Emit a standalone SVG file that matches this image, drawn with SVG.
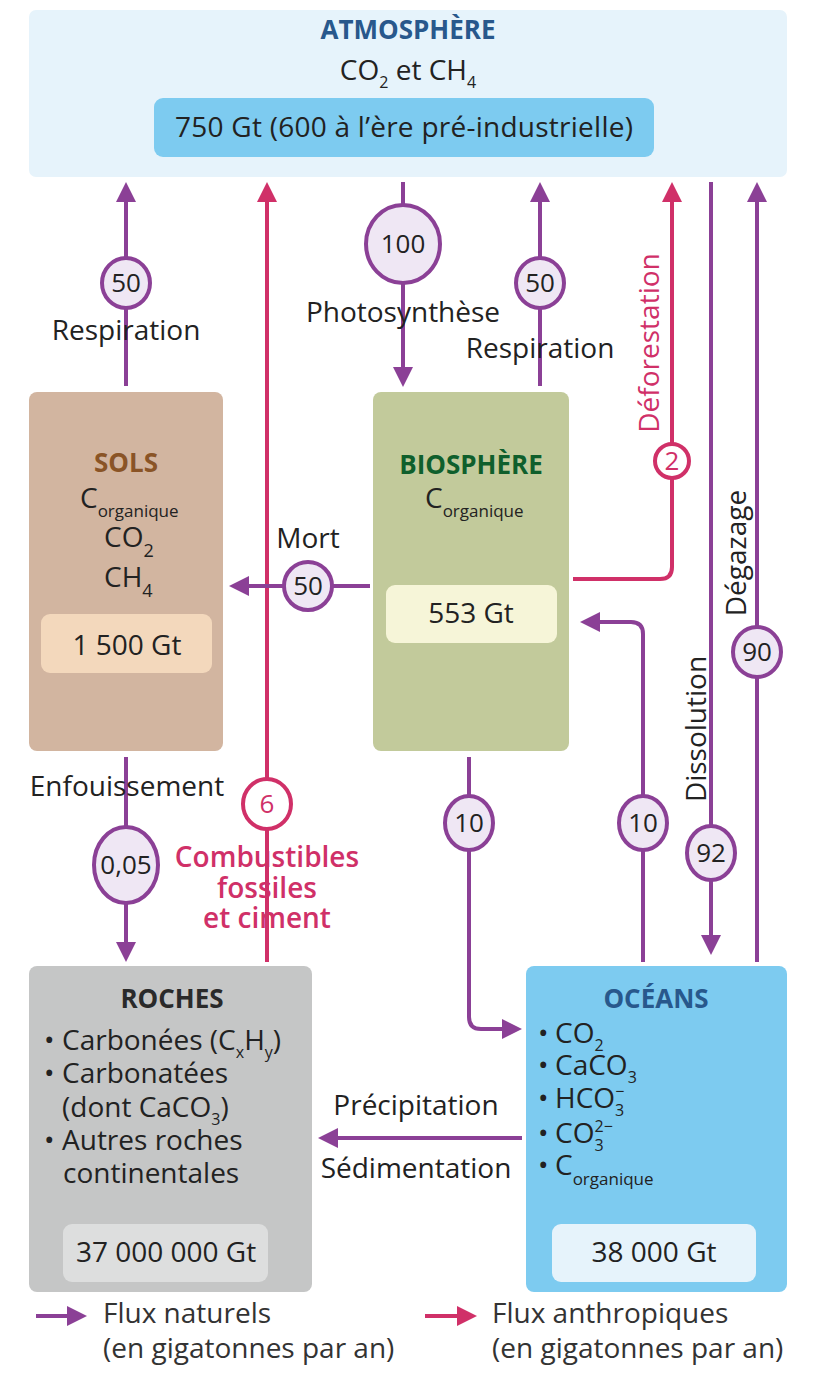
<svg xmlns="http://www.w3.org/2000/svg" width="815" height="1394" viewBox="0 0 815 1394">
<defs>
<style>
text{font-family:"Open Sans","Noto Sans",sans-serif;fill:#222;}
.lbl{font-size:28px;}
.mid{text-anchor:middle;}
.num{font-size:26px;text-anchor:middle;}
.ttl{font-size:26px;font-weight:bold;text-anchor:middle;}
.sub{font-size:16px;}
.np{fill:none;stroke:#8b4096;stroke-width:4;}
.ap{fill:none;stroke:#d03068;stroke-width:4;}
.cn{fill:#efe7f4;stroke:#8b4096;stroke-width:4;}
.ca{fill:#fff;stroke:#d03068;stroke-width:4;}
.pk{fill:#d03068;}
</style>
<marker id="mp" viewBox="0 0 20 20" refX="3" refY="10" markerWidth="20" markerHeight="20" markerUnits="userSpaceOnUse" orient="auto"><path d="M0,0 L20,10 L0,20 z" fill="#8b4096"/></marker>
<marker id="ma" viewBox="0 0 20 20" refX="3" refY="10" markerWidth="20" markerHeight="20" markerUnits="userSpaceOnUse" orient="auto"><path d="M0,0 L20,10 L0,20 z" fill="#d03068"/></marker>
</defs>

<g id="atmosphere">
<rect x="29" y="10" width="758" height="167" rx="7" fill="#e6f3fb"/>
<text class="ttl" x="408" y="39" style="fill:#28588c">ATMOSPHÈRE</text>
<text class="lbl mid" x="408" y="80">CO<tspan class="sub" dy="8">2</tspan><tspan dy="-8"> et CH</tspan><tspan class="sub" dy="8">4</tspan></text>
<rect x="154" y="98" width="500" height="59" rx="9" fill="#7dcbf0"/>
<text class="lbl mid" x="404" y="137" textLength="458">750 Gt (600 à l’ère pré-industrielle)</text>
</g>

<g id="sols">
<rect x="29" y="392" width="194" height="359" rx="8" fill="#d2b5a0"/>
<text class="ttl" x="126" y="472" style="fill:#8a5426">SOLS</text>
<text class="lbl" x="80" y="508">C<tspan class="sub" dy="9" style="font-size:17px">organique</tspan></text>
<text class="lbl" x="104" y="547">CO<tspan class="sub" dy="10" style="font-size:18px">2</tspan></text>
<text class="lbl" x="104" y="587">CH<tspan class="sub" dy="10" style="font-size:18px">4</tspan></text>
<rect x="41" y="614" width="171" height="59" rx="9" fill="#f3d8bc"/>
<text class="lbl mid" x="127" y="655">1 500 Gt</text>
</g>

<g id="biosphere">
<rect x="373" y="392" width="196" height="359" rx="8" fill="#c2ca9b"/>
<text class="ttl" x="471" y="474" style="fill:#0f5f2c">BIOSPHÈRE</text>
<text class="lbl" x="425" y="508">C<tspan class="sub" dy="9" style="font-size:17px">organique</tspan></text>
<rect x="386" y="585" width="171" height="58" rx="9" fill="#f6f5d8"/>
<text class="lbl mid" x="471" y="623">553 Gt</text>
</g>

<g id="roches">
<rect x="29" y="966" width="283" height="326" rx="8" fill="#c5c6c6"/>
<text class="ttl" x="172" y="1008" style="fill:#2a2a2a">ROCHES</text>
<text class="lbl" x="44" y="1050">•<tspan x="62">Carbonées (C</tspan><tspan class="sub" dy="8">x</tspan><tspan dy="-8">H</tspan><tspan class="sub" dy="8">y</tspan><tspan dy="-8">)</tspan></text>
<text class="lbl" x="44" y="1083">•<tspan x="62">Carbonatées</tspan></text>
<text class="lbl" x="62" y="1117">(dont CaCO<tspan class="sub" dy="8">3</tspan><tspan dy="-8">)</tspan></text>
<text class="lbl" x="44" y="1150">•<tspan x="62">Autres roches</tspan></text>
<text class="lbl" x="63" y="1183">continentales</text>
<rect x="63" y="1224" width="205" height="58" rx="9" fill="#dddede"/>
<text class="lbl mid" x="166" y="1262">37 000 000 Gt</text>
</g>

<g id="oceans">
<rect x="526" y="966" width="261" height="326" rx="8" fill="#7dcbf0"/>
<text class="ttl" x="656" y="1008" style="fill:#28588c">OCÉANS</text>
<text class="lbl" x="538" y="1043">•<tspan x="555">CO</tspan><tspan class="sub" dy="8">2</tspan></text>
<text class="lbl" x="538" y="1075">•<tspan x="555">CaCO</tspan><tspan class="sub" dy="8">3</tspan></text>
<text class="lbl" x="538" y="1108">•<tspan x="555">HCO</tspan><tspan class="sub" dy="8">3</tspan><tspan class="sub" dx="-9" dy="-19">−</tspan></text>
<text class="lbl" x="538" y="1143">•<tspan x="555">CO</tspan><tspan class="sub" dy="8">3</tspan><tspan class="sub" dx="-9" dy="-19">2−</tspan></text>
<text class="lbl" x="538" y="1175">•<tspan x="555">C</tspan><tspan class="sub" dy="10" style="font-size:17px">organique</tspan></text>
<rect x="552" y="1224" width="204" height="58" rx="9" fill="#e6f3fb"/>
<text class="lbl mid" x="654" y="1262">38 000 Gt</text>
</g>

<g id="connectors">
<path class="np" d="M126 386 V199" marker-end="url(#mp)"/>
<path class="ap" d="M267 962 V199" marker-end="url(#ma)"/>
<path class="np" d="M403 182 V370" marker-end="url(#mp)"/>
<path class="np" d="M540 386 V199" marker-end="url(#mp)"/>
<path class="ap" d="M573 579 H660 Q672 579 672 567 V199" marker-end="url(#ma)"/>
<path class="np" d="M711 182 V938" marker-end="url(#mp)"/>
<path class="np" d="M757 962 V199" marker-end="url(#mp)"/>
<path class="np" d="M370 586 H246" marker-end="url(#mp)"/>
<path class="np" d="M643 962 V634 Q643 622 631 622 H597" marker-end="url(#mp)"/>
<path class="np" d="M469 757 V1017 Q469 1029 481 1029 H505" marker-end="url(#mp)"/>
<path class="np" d="M126 757 V945" marker-end="url(#mp)"/>
<path class="np" d="M522 1138 H335" marker-end="url(#mp)"/>

<ellipse class="cn" cx="126" cy="283" rx="24" ry="25"/>
<text class="num" x="126" y="292">50</text>
<ellipse class="cn" cx="403" cy="244" rx="37" ry="39"/>
<text class="num" x="403" y="253">100</text>
<ellipse class="cn" cx="540" cy="283" rx="24" ry="25"/>
<text class="num" x="540" y="292">50</text>
<circle class="ca" cx="672" cy="461" r="17"/>
<text class="num pk" x="672" y="470">2</text>
<circle class="cn" cx="308" cy="586" r="24"/>
<text class="num" x="308" y="595">50</text>
<ellipse class="cn" cx="757" cy="652" rx="24" ry="25"/>
<text class="num" x="757" y="661">90</text>
<ellipse class="cn" cx="711" cy="853" rx="24" ry="27"/>
<text class="num" x="711" y="862">92</text>
<ellipse class="cn" cx="643" cy="823" rx="24" ry="27"/>
<text class="num" x="643" y="832">10</text>
<ellipse class="cn" cx="469" cy="823" rx="24" ry="27"/>
<text class="num" x="469" y="832">10</text>
<ellipse class="cn" cx="126" cy="865" rx="32" ry="38"/>
<text class="num" x="126" y="874">0,05</text>
<ellipse class="ca" cx="267" cy="804" rx="24" ry="25"/>
<text class="num pk" x="267" y="813">6</text>

<text class="lbl mid" x="126" y="340">Respiration</text>
<text class="lbl mid" x="403" y="322">Photosynthèse</text>
<text class="lbl mid" x="540" y="358">Respiration</text>
<text class="lbl mid" x="308" y="548">Mort</text>
<text class="lbl mid" x="127" y="796">Enfouissement</text>
<text class="lbl mid pk" x="267" y="867" style="font-weight:600">Combustibles</text>
<text class="lbl mid pk" x="267" y="898" style="font-weight:600">fossiles</text>
<text class="lbl mid pk" x="267" y="928" style="font-weight:600">et ciment</text>
<text class="lbl mid pk" transform="translate(659,343) rotate(-90)">Déforestation</text>
<text class="lbl mid" transform="translate(706,729) rotate(-90)">Dissolution</text>
<text class="lbl mid" transform="translate(746,553) rotate(-90)">Dégazage</text>
<text class="lbl mid" x="416" y="1115">Précipitation</text>
<text class="lbl mid" x="416" y="1178">Sédimentation</text>
</g>

<g id="legend">
<path class="np" d="M36 1316 H70" marker-end="url(#mp)"/>
<text class="lbl" x="103" y="1323" style="fill:#333">Flux naturels</text>
<text class="lbl" x="103" y="1358" style="fill:#333">(en gigatonnes par an)</text>
<path class="ap" d="M425 1316 H460" marker-end="url(#ma)"/>
<text class="lbl" x="492" y="1323" style="fill:#333">Flux anthropiques</text>
<text class="lbl" x="492" y="1358" style="fill:#333">(en gigatonnes par an)</text>
</g>
</svg>
